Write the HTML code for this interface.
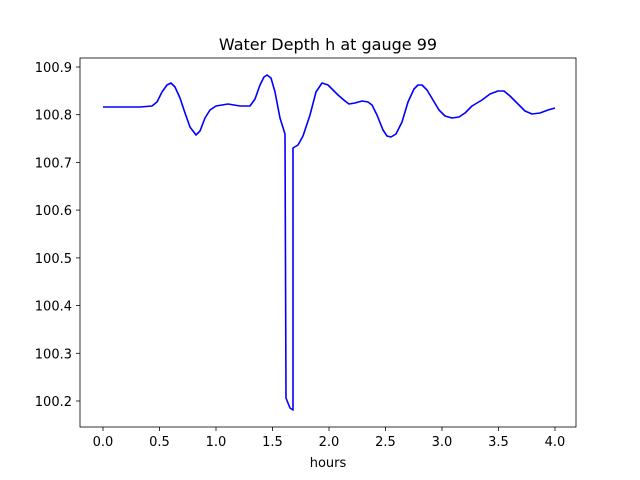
<!DOCTYPE html>
<html><head><meta charset="utf-8"><style>body{margin:0;background:#fff}svg{display:block}text{font-family:"DejaVu Sans","Liberation Sans",sans-serif;font-size:13px;fill:#000}</style></head>
<body>
<svg width="640" height="480" viewBox="0 0 640 480" xmlns="http://www.w3.org/2000/svg">
<rect x="0" y="0" width="640" height="480" fill="#fff"/>
<text x="328" y="50" text-anchor="middle" style="font-size:16px">Water Depth h at gauge 99</text>
<g stroke="#000" stroke-width="0.8">
<line x1="103" y1="427" x2="103" y2="431"/><line x1="159.5" y1="427" x2="159.5" y2="431"/><line x1="216" y1="427" x2="216" y2="431"/><line x1="272.5" y1="427" x2="272.5" y2="431"/><line x1="329" y1="427" x2="329" y2="431"/><line x1="385.5" y1="427" x2="385.5" y2="431"/><line x1="442" y1="427" x2="442" y2="431"/><line x1="498.5" y1="427" x2="498.5" y2="431"/><line x1="555" y1="427" x2="555" y2="431"/>
<line x1="76" y1="67" x2="80" y2="67"/><line x1="76" y1="114.7" x2="80" y2="114.7"/><line x1="76" y1="162.4" x2="80" y2="162.4"/><line x1="76" y1="210.1" x2="80" y2="210.1"/><line x1="76" y1="257.9" x2="80" y2="257.9"/><line x1="76" y1="305.6" x2="80" y2="305.6"/><line x1="76" y1="353.3" x2="80" y2="353.3"/><line x1="76" y1="401" x2="80" y2="401"/>
</g>
<g text-anchor="middle">
<text x="103" y="446">0.0</text><text x="159.5" y="446">0.5</text><text x="216" y="446">1.0</text><text x="272.5" y="446">1.5</text><text x="329" y="446">2.0</text><text x="385.5" y="446">2.5</text><text x="442" y="446">3.0</text><text x="498.5" y="446">3.5</text><text x="555" y="446">4.0</text>
<text x="328" y="467">hours</text>
</g>
<g text-anchor="end">
<text x="72" y="72">100.9</text><text x="72" y="119.7">100.8</text><text x="72" y="167.4">100.7</text><text x="72" y="215.1">100.6</text><text x="72" y="262.9">100.5</text><text x="72" y="310.6">100.4</text><text x="72" y="358.3">100.3</text><text x="72" y="406">100.2</text>
</g>
<polyline fill="none" stroke="#0000ff" stroke-width="1.6" stroke-linejoin="round" points="103,107 140,107 152,106 157,102 162,92 167,85 171,83 175,87 180,98 185,113 190,127 196,135 200,131 205,118 210,110 216,106 228,104 240,106 250,106 255,99 260,85 264,77 267,75 271,78 275,92 280,118 285,134 286,398 290,408 293,410 293,148 298,145 303,136 310,115 316,92 322,83 328,85 338,95 345,101 349,104 355,103 362,101 368,102 372,105 377,115 383,130 387,136 391,137 396,134 402,122 408,102 414,89 418,85 422,85 427,90 433,100 439,110 445,116 452,118 459,117 465,113 472,106 482,100 490,94 498,91 504,91 510,96 518,104 525,111 532,114 540,113 548,110 555,108"/>
<rect x="80" y="58" width="496" height="369" fill="none" stroke="#000" stroke-width="0.8"/>
</svg>
</body></html>
